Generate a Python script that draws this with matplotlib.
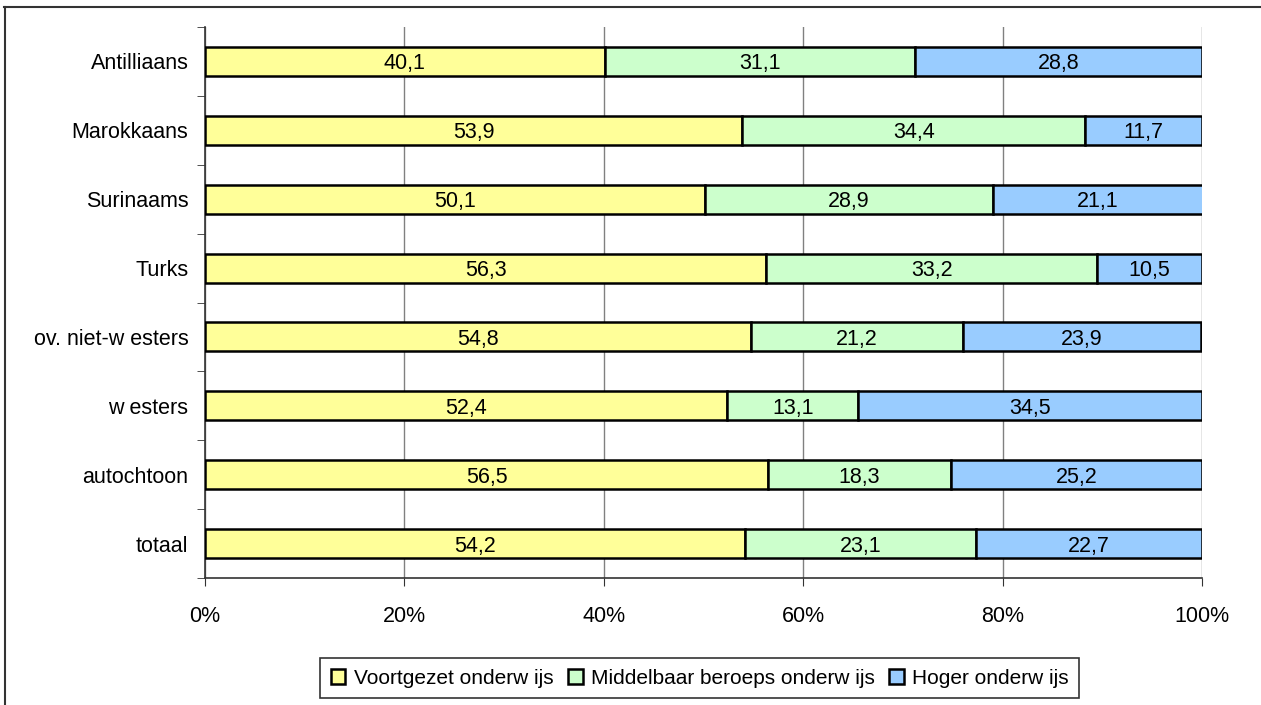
import matplotlib.pyplot as plt
from matplotlib.lines import Line2D

plt.rcParams['font.family'] = ['Liberation Sans', 'DejaVu Sans']

# categories from top to bottom
categories = ["Antilliaans", "Marokkaans", "Surinaams", "Turks",
              "ov. niet-w esters", "w esters", "autochtoon", "totaal"]
voortgezet = [40.1, 53.9, 50.1, 56.3, 54.8, 52.4, 56.5, 54.2]
middelbaar = [31.1, 34.4, 28.9, 33.2, 21.2, 13.1, 18.3, 23.1]
hoger = [28.8, 11.7, 21.1, 10.5, 23.9, 34.5, 25.2, 22.7]
series_names = ["Voortgezet onderw ijs", "Middelbaar beroeps onderw ijs", "Hoger onderw ijs"]
colors = ["#FFFF99", "#CCFFCC", "#99CCFF"]
xticks = [0, 20, 40, 60, 80, 100]

fig = plt.figure(figsize=(12.61, 7.05), dpi=100)
ax = fig.add_axes([0.1626, 0.1801, 0.7906, 0.7816])

n = len(categories)
ypos = [n - 1 - i for i in range(n)]
left = [0.0] * n
for vals, name, col in zip([voortgezet, middelbaar, hoger], series_names, colors):
    bars = ax.barh(ypos, vals, left=left, height=0.42, color=col,
                   edgecolor="black", linewidth=1.8, label=name, zorder=3)
    for b, v in zip(bars, vals):
        ax.text(b.get_x() + b.get_width() / 2, b.get_y() + b.get_height() / 2,
                f"{v:.1f}".replace(".", ","), ha="center", va="center_baseline",
                fontsize=15.5, zorder=4)
    left = [l + v for l, v in zip(left, vals)]

ax.set_xlim(0, 100)
ax.set_ylim(-0.5, n - 0.5)
ax.set_xticks(xticks)
ax.set_xticklabels([f"{t}%" for t in xticks], fontsize=15.5)
ax.set_yticks(ypos)
ax.set_yticklabels(categories, fontsize=15.5)
ax.set_yticks([i - 0.5 for i in range(n + 1)], minor=True)
ax.tick_params(axis="y", which="major", length=0, pad=12)
ax.tick_params(axis="y", which="minor", length=6, direction="out", color="#333333")
ax.tick_params(axis="x", length=6, direction="out", pad=14, color="#333333")
ax.xaxis.grid(True, color="#808080", linewidth=1, zorder=0)
for s in ["top", "right"]:
    ax.spines[s].set_visible(False)
for s in ["left", "bottom"]:
    ax.spines[s].set_color("#333333")
    ax.spines[s].set_linewidth(1.2)

leg = fig.legend(loc="center", bbox_to_anchor=(0.555, 0.038), ncol=3,
                 fontsize=15, frameon=True, fancybox=False, edgecolor="black",
                 handlelength=0.7, handleheight=0.7, handletextpad=0.4,
                 columnspacing=0.7, borderpad=0.5)
leg.get_frame().set_linewidth(1.2)

# outer frame: only top and left edges are visible
fig.lines.append(Line2D([0.0035, 1.0], [0.990, 0.990], transform=fig.transFigure,
                        color="#333333", linewidth=1.5))
fig.lines.append(Line2D([0.0040, 0.0040], [0.0, 0.990], transform=fig.transFigure,
                        color="#333333", linewidth=1.5))

fig.savefig("out.png", dpi=100)
